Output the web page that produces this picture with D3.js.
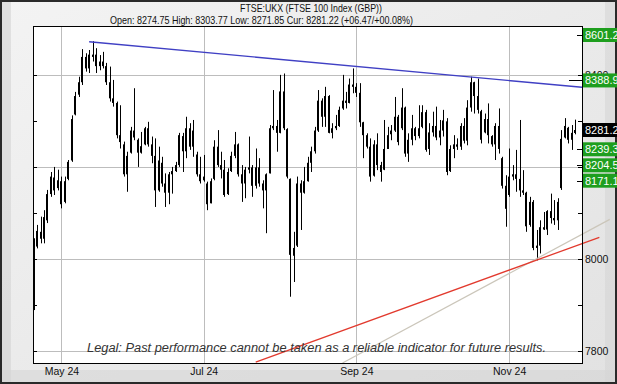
<!DOCTYPE html>
<html>
<head>
<meta charset="utf-8">
<script src="https://cdn.jsdelivr.net/npm/d3@7"></script>
<style>
body{margin:0;background:#fff;}
svg{display:block;}
text{font-family:"Liberation Sans",Arial,sans-serif;}
</style>
</head>
<body>
<div id="chart"></div>
<script>
// daily bars, one per trading day (19 Apr 2024 .. 28 Nov 2024)
const opens=[7895,8028,8060,8045,8085,8142,8178,8155,8170,8125,
8175,8215,8315,8358,8385,8440,8415,8440,8445,8420,
8430,8420,8385,8350,8340,8270,8250,8185,8232,8280,
8260,8232,8250,8285,8250,8225,8150,8210,8165,8145,
8185,8192,8205,8268,8235,8285,8245,8228,8185,8172,
8165,8122,8175,8245,8205,8195,8142,8192,8225,8250,
8185,8165,8195,8200,8160,8200,8165,8150,8187,8285,
8290,8275,8365,8283,8175,8008,8030,8165,8145,8170,
8210,8235,8280,8345,8310,8355,8275,8285,8290,8328,
8345,8340,8380,8375,8362,8298,8270,8245,8182,8250,
8205,8195,8240,8272,8280,8310,8285,8330,8230,8260,
8285,8268,8288,8320,8240,8276,8290,8265,8280,8300,
8192,8240,8250,8245,8290,8258,8330,8385,8355,8322,
8276,8305,8268,8250,8290,8220,8160,8140,8180,8185,
8175,8150,8145,8075,8125,8025,8030,8070,8065,8105,
8090,8085,8155,8265,8286,8260,8274.75];
const highs=[8046,8075,8093,8107,8151,8190,8201,8195,8180,8180,
8216,8313,8364,8397,8457,8448,8455,8474,8459,8444,
8451,8427,8419,8390,8343,8335,8256,8234,8288,8372,
8263,8277,8288,8299,8267,8263,8245,8223,8187,8190,
8201,8212,8275,8275,8310,8296,8303,8234,8223,8227,
8169,8176,8259,8281,8234,8216,8198,8234,8277,8252,
8205,8201,8267,8205,8241,8220,8172,8187,8292,8368,
8303,8401,8404,8285,8176,8060,8180,8172,8201,8223,
8245,8288,8368,8350,8375,8357,8296,8314,8332,8401,
8364,8393,8415,8383,8383,8299,8274,8263,8259,8274,
8212,8303,8288,8292,8353,8314,8372,8332,8274,8314,
8288,8335,8335,8325,8296,8321,8332,8303,8325,8307,
8248,8270,8263,8296,8307,8346,8397,8386,8393,8325,
8317,8339,8270,8296,8328,8223,8183,8241,8205,8238,
8303,8194,8147,8136,8129,8064,8085,8103,8107,8143,
8129,8133,8281,8307,8288,8292,8303.77];
const lows=[7890,8024,8035,8035,8079,8136,8140,8150,8111,8122,
8172,8212,8313,8353,8379,8408,8405,8430,8405,8411,
8415,8379,8343,8332,8263,8241,8180,8147,8230,8259,
8201,8230,8248,8245,8209,8114,8147,8158,8114,8120,
8143,8190,8201,8190,8220,8238,8223,8180,8165,8169,
8107,8122,8172,8201,8176,8136,8140,8190,8220,8180,
8125,8133,8187,8136,8154,8158,8111,8057,8187,8281,
8234,8274,8281,8176,7919,7951,8027,8064,8143,8169,
8190,8230,8277,8288,8288,8274,8263,8281,8288,8325,
8328,8339,8361,8353,8288,8220,8241,8169,8180,8194,
8169,8194,8241,8259,8277,8248,8281,8223,8212,8248,
8259,8263,8285,8234,8227,8267,8259,8248,8267,8183,
8190,8220,8238,8238,8252,8248,8321,8317,8317,8252,
8274,8252,8245,8216,8230,8154,8071,8136,8172,8147,
8136,8140,8060,8071,8020,7998,8013,8064,8053,8078,
8075,8064,8151,8263,8252,8238,8271.85];
const closes=[8024,8062,8045,8092,8142,8180,8150,8172,8120,8170,
8212,8305,8355,8385,8440,8415,8445,8445,8420,8430,
8420,8385,8350,8340,8270,8255,8185,8225,8280,8265,
8232,8246,8285,8250,8225,8150,8215,8165,8145,8185,
8192,8205,8270,8235,8285,8245,8280,8185,8170,8180,
8120,8170,8245,8205,8195,8140,8190,8225,8250,8185,
8165,8195,8200,8160,8200,8165,8150,8185,8285,8290,
8275,8365,8285,8180,8010,8025,8165,8145,8170,8210,
8235,8280,8345,8310,8355,8275,8285,8290,8325,8345,
8340,8380,8375,8362,8298,8270,8245,8180,8250,8205,
8190,8240,8270,8280,8310,8255,8330,8230,8260,8285,
8268,8285,8320,8238,8276,8290,8265,8280,8302,8190,
8240,8250,8245,8290,8258,8330,8385,8355,8325,8260,
8305,8270,8250,8290,8240,8160,8110,8180,8185,8175,
8150,8145,8072,8125,8025,8030,8070,8065,8105,8090,
8085,8125,8262,8290,8260,8275,8281.22];

// month labels sit on the first trading day of the month
const monthIdx=[8,49,93,137];
const monthLabels=["May 24","Jul 24","Sep 24","Nov 24"];
const majorTicks=[7800,8000,8200,8400];
const labelTicks=[7800,8000,8400];
const minorTicks=[7900,8100,8300];

// level boxes on the right
const levelValues=[8601.2,8388.9,8239.3,8204.5,8171.1];
const curValue=8281.2;

// trend lines [day index, price]
const blueLine=[[16,8473],[158,8374]];
const redLine=[[64,7777],[163,8048]];
const greyLine=[[89,7775],[166,8087]];

const W=617,H=384;
const plotL=34,plotR=582,plotT=27,plotB=363;

const svg=d3.select("#chart").append("svg")
  .attr("width",W).attr("height",H);

const defs=svg.append("defs");
const bg=defs.append("linearGradient").attr("id","bg").attr("x1","0").attr("y1","0").attr("x2","1").attr("y2","1");
bg.append("stop").attr("offset","0").attr("stop-color","#f3f3f3");
bg.append("stop").attr("offset","1").attr("stop-color","#e2e2e2");
defs.append("clipPath").attr("id","plotclip").append("rect")
  .attr("x",plotL).attr("y",plotT).attr("width",plotR-plotL).attr("height",plotB-plotT);

// frame
svg.append("rect").attr("x",0).attr("y",0).attr("width",W).attr("height",H).attr("fill","url(#bg)");
svg.append("rect").attr("x",1).attr("y",1).attr("width",10).attr("height",H-2).attr("fill","#d4d4d4").attr("opacity",0.6);
svg.append("rect").attr("x",1).attr("y",H-14).attr("width",W-2).attr("height",13).attr("fill","#d6d6d6").attr("opacity",0.6);
svg.append("rect").attr("x",W-12).attr("y",1).attr("width",11).attr("height",H-2).attr("fill","#d6d6d6").attr("opacity",0.6);
svg.append("rect").attr("x",1).attr("y",1).attr("width",W-2).attr("height",H-2)
  .attr("fill","none").attr("stroke","#2a2a2a").attr("stroke-width",2);

// plot background
svg.append("rect").attr("x",plotL).attr("y",plotT).attr("width",plotR-plotL).attr("height",plotB-plotT).attr("fill","#fff");

const x=d3.scaleLinear().domain([0,158]).range([33.6,plotR]);
const y=d3.scaleLinear().domain([7775,8505]).range([plotB,plotT]);

// grid
svg.append("g").selectAll("line").data(majorTicks).enter().append("line")
  .attr("x1",plotL).attr("x2",plotR)
  .attr("y1",d=>Math.round(y(d))+0.5).attr("y2",d=>Math.round(y(d))+0.5)
  .attr("stroke","#bdbdbd");
svg.append("g").selectAll("line").data(monthIdx).enter().append("line")
  .attr("y1",plotT).attr("y2",plotB)
  .attr("x1",d=>Math.round(x(d))+0.5).attr("x2",d=>Math.round(x(d))+0.5)
  .attr("stroke","#bdbdbd");

// minor ticks on both edges
const allTicks=majorTicks.concat(minorTicks);
svg.append("g").selectAll("line").data(allTicks).enter().append("line")
  .attr("x1",plotL).attr("x2",plotL+3)
  .attr("y1",d=>Math.round(y(d))+0.5).attr("y2",d=>Math.round(y(d))+0.5)
  .attr("stroke","#000");
svg.append("g").selectAll("line").data(allTicks).enter().append("line")
  .attr("x1",plotR-4).attr("x2",plotR)
  .attr("y1",d=>Math.round(y(d))+0.5).attr("y2",d=>Math.round(y(d))+0.5)
  .attr("stroke","#000");

// bars
const bars=d3.range(opens.length).map(i=>({i:i,o:opens[i],h:highs[i],l:lows[i],c:closes[i]}));
const barG=svg.append("g").attr("clip-path","url(#plotclip)");
barG.selectAll(".wick").data(bars).enter().append("line")
  .attr("class","wick")
  .attr("x1",d=>Math.round(x(d.i))+0.5).attr("x2",d=>Math.round(x(d.i))+0.5)
  .attr("y1",d=>y(d.h)).attr("y2",d=>y(d.l))
  .attr("stroke","#000").attr("stroke-width",1);
barG.selectAll(".body").data(bars).enter().append("rect")
  .attr("class","body")
  .attr("x",d=>Math.round(x(d.i))-1)
  .attr("width",2)
  .attr("y",d=>y(Math.max(d.o,d.c)))
  .attr("height",d=>Math.max(1,Math.abs(y(d.o)-y(d.c))))
  .attr("fill","#000");

// trend lines
const line=d3.line().x(d=>x(d[0])).y(d=>y(d[1]));
svg.append("path").datum(greyLine).attr("d",line).attr("fill","none").attr("stroke","#cbc6ba").attr("stroke-width",1.2);
svg.append("path").datum(redLine).attr("d",line).attr("fill","none").attr("stroke","#e23a2e").attr("stroke-width",1.3);
svg.append("path").datum(blueLine).attr("d",line).attr("clip-path","url(#plotclip)")
  .attr("fill","none").attr("stroke","#4040c4").attr("stroke-width",1.4);

// legal note
svg.append("text").attr("x",87).attr("y",352)
  .attr("font-size",12).attr("font-style","italic").attr("fill","#333")
  .attr("textLength",459).attr("lengthAdjust","spacingAndGlyphs")
  .text("Legal: Past performance cannot be taken as a reliable indicator for future results.");

// plot border
svg.append("rect").attr("x",plotL-0.5).attr("y",plotT-0.5).attr("width",plotR-plotL+1).attr("height",plotB-plotT+1)
  .attr("fill","none").attr("stroke","#000");

// axes
const xAxis=svg.append("g").attr("transform","translate(0,"+plotB+")")
  .call(d3.axisBottom(x).tickValues(monthIdx).tickFormat((d,k)=>monthLabels[k]).tickSize(0).tickPadding(5));
xAxis.select(".domain").remove();
xAxis.selectAll("text").attr("font-size",10.5).attr("fill","#111").attr("font-family",null);

const yAxis=svg.append("g").attr("transform","translate("+plotR+",0)")
  .call(d3.axisRight(y).tickValues(labelTicks).tickFormat(d3.format("d")).tickSize(0).tickPadding(3));
yAxis.select(".domain").remove();
yAxis.selectAll("text").attr("font-size",10.5).attr("fill","#111").attr("font-family",null);

// level boxes
const lvl=svg.append("g");
levelValues.forEach(v=>{
  const cy=Math.max(plotT+8,y(v));
  lvl.append("line").attr("x1",plotR-5).attr("x2",plotR).attr("y1",Math.round(cy)+0.5).attr("y2",Math.round(cy)+0.5).attr("stroke","#000");
  lvl.append("rect").attr("x",plotR+1).attr("y",cy-7).attr("width",W-plotR-1).attr("height",14).attr("fill","#1e9e1e");
  lvl.append("text").attr("x",plotR+3).attr("y",cy+4).attr("font-size",11).attr("fill","#fff").text(v.toFixed(1));
});
lvl.append("line").attr("x1",plotR-13).attr("x2",plotR).attr("y1",Math.round(y(levelValues[1]))+0.5).attr("y2",Math.round(y(levelValues[1]))+0.5).attr("stroke","#000");
const cy0=y(curValue);
lvl.append("rect").attr("x",plotR+1).attr("y",cy0-7).attr("width",W-plotR-1).attr("height",14).attr("fill","#000");
lvl.append("text").attr("x",plotR+3).attr("y",cy0+4).attr("font-size",11).attr("fill","#fff").text(curValue.toFixed(1));

// header
svg.append("text").attr("x",311).attr("y",12).attr("text-anchor","middle")
  .attr("font-size",10.5).attr("fill","#111")
  .attr("textLength",142).attr("lengthAdjust","spacingAndGlyphs")
  .text("FTSE:UKX (FTSE 100 Index (GBP))");
svg.append("text").attr("x",261.5).attr("y",24).attr("text-anchor","middle")
  .attr("font-size",10.5).attr("fill","#111")
  .attr("textLength",303).attr("lengthAdjust","spacingAndGlyphs")
  .text("Open: 8274.75 High: 8303.77 Low: 8271.85 Cur: 8281.22 (+06.47/+00.08%)");
</script>
</body>
</html>
